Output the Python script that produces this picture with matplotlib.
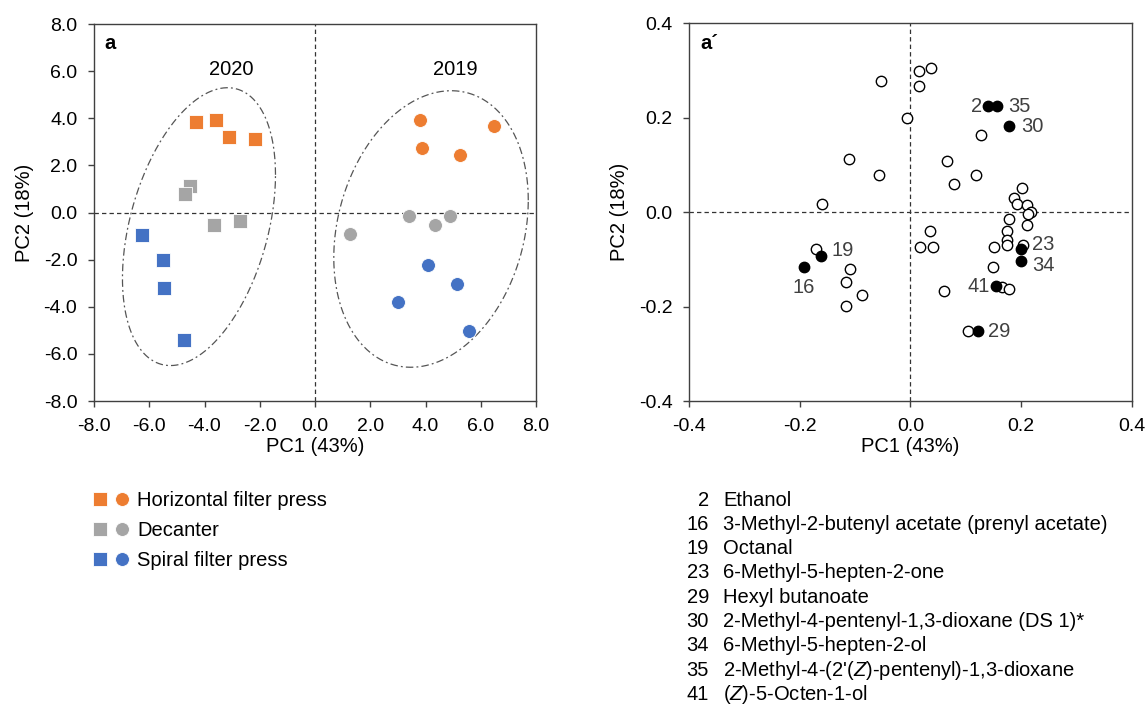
import numpy as np
import matplotlib
matplotlib.use("Agg")
import matplotlib.pyplot as plt
from matplotlib.lines import Line2D
from matplotlib.legend_handler import HandlerTuple
from matplotlib.ticker import FormatStrFormatter

plt.rcParams['font.family'] = ['Liberation Sans', 'DejaVu Sans']
plt.rcParams['mathtext.fontset'] = 'custom'
plt.rcParams['mathtext.rm'] = 'Liberation Sans'
plt.rcParams['mathtext.it'] = 'Liberation Sans:italic'
plt.rcParams['axes.unicode_minus'] = False

# --- scores plot (a) ---
presses = ["Horizontal filter press", "Decanter", "Spiral filter press"]
press_colors = ["#ED7D31", "#A5A5A5", "#4472C4"]

pc1_2020 = [[-4.30, -3.58, -3.13, -2.16],
            [-4.52, -4.69, -3.67, -2.72],
            [-6.28, -5.51, -5.48, -4.73]]
pc2_2020 = [[3.85, 3.93, 3.20, 3.13],
            [1.12, 0.77, -0.54, -0.37],
            [-0.97, -2.03, -3.22, -5.43]]
pc1_2019 = [[3.80, 3.86, 5.25, 6.47],
            [1.28, 3.42, 4.35, 4.89],
            [4.08, 5.14, 3.02, 5.59]]
pc2_2019 = [[3.93, 2.72, 2.44, 3.66],
            [-0.93, -0.16, -0.52, -0.16],
            [-2.24, -3.03, -3.81, -5.03]]

# confidence ellipses: centre x, centre y, x semi-extent, y coupling, y spread
ellipse_2020 = (-4.2, -0.6, 2.77, 2.2, 5.47)
ellipse_2019 = (4.2, -0.7, 3.52, 1.22, 5.74)

# --- loadings plot (a') ---
open_pc1 = [-0.054, 0.016, 0.037, 0.016, -0.007, 0.127, -0.111, -0.057, 0.066,
            0.119, 0.078, -0.160, 0.202, 0.187, 0.193, 0.210, 0.217, 0.213,
            0.211, 0.178, 0.175, 0.174, 0.175, 0.204, 0.151, 0.149, 0.036,
            0.017, 0.040, -0.171, -0.109, -0.116, -0.088, -0.117, 0.061,
            0.165, 0.178, 0.104]
open_pc2 = [0.277, 0.300, 0.305, 0.268, 0.200, 0.164, 0.113, 0.079, 0.108,
            0.078, 0.059, 0.017, 0.051, 0.030, 0.018, 0.015, 0.000, -0.003,
            -0.027, -0.014, -0.039, -0.059, -0.070, -0.069, -0.074, -0.117,
            -0.039, -0.074, -0.073, -0.078, -0.121, -0.148, -0.176, -0.199,
            -0.168, -0.158, -0.162, -0.252]

marked_ids = [2, 35, 30, 23, 34, 41, 29, 19, 16]
marked_pc1 = [0.140, 0.157, 0.179, 0.200, 0.200, 0.155, 0.122, -0.161, -0.193]
marked_pc2 = [0.224, 0.224, 0.182, -0.078, -0.103, -0.157, -0.252, -0.092, -0.116]

compound_ids = [2, 16, 19, 23, 29, 30, 34, 35, 41]
compound_names = [
    "Ethanol",
    "3-Methyl-2-butenyl acetate (prenyl acetate)",
    "Octanal",
    "6-Methyl-5-hepten-2-one",
    "Hexyl butanoate",
    "2-Methyl-4-pentenyl-1,3-dioxane (DS 1)*",
    "6-Methyl-5-hepten-2-ol",
    r"2-Methyl-4-(2'($\mathit{Z}$)-pentenyl)-1,3-dioxane",
    r"($\mathit{Z}$)-5-Octen-1-ol",
]

# label placement (offset in points, horizontal alignment)
label_offsets = {2: (-4.5, 0, 'right'), 35: (8, 0, 'left'), 30: (8.5, 0, 'left'),
                 23: (8, 3, 'left'), 34: (8, -3.5, 'left'), 41: (-4.5, 0, 'right'),
                 29: (7, 0, 'left'), 19: (7, 4, 'left'), 16: (0, -14.5, 'center')}

FS = 14.5
SPINE = "#404040"


def style_axes(ax, lim, step):
    ax.set_xlim(-lim, lim)
    ax.set_ylim(-lim, lim)
    ticks = np.arange(-lim, lim + step / 2, step)
    ax.set_xticks(ticks)
    ax.set_yticks(ticks)
    ax.xaxis.set_major_formatter(FormatStrFormatter('%.1f'))
    ax.yaxis.set_major_formatter(FormatStrFormatter('%.1f'))
    ax.tick_params(direction='out', length=4, width=1, color=SPINE,
                   labelsize=14, pad=8)
    for sp in ax.spines.values():
        sp.set_color(SPINE)
        sp.set_linewidth(1.0)
    ax.axhline(0, color="#333333", lw=0.9, ls=(0, (3.5, 2.5)), zorder=1)
    ax.axvline(0, color="#333333", lw=0.9, ls=(0, (3.5, 2.5)), zorder=1)
    ax.set_xlabel("PC1 (43%)", fontsize=FS, labelpad=2)
    ax.set_ylabel("PC2 (18%)", fontsize=FS, labelpad=7)


def draw_ellipse(ax, params):
    cx, cy, a, c, d = params
    t = np.linspace(0, 2 * np.pi, 300)
    ax.plot(cx + a * np.cos(t), cy + c * np.cos(t) + d * np.sin(t),
            color="#555555", lw=0.9, ls=(0, (6, 2.5, 1.5, 2.5)), zorder=2)


fig = plt.figure(figsize=(11.46, 7.08), dpi=100)
W, H = 1146, 708
ax1 = fig.add_axes([94 / W, 307 / H, 442 / W, 377 / H])
ax2 = fig.add_axes([689.3 / W, 307 / H, 442.4 / W, 377.7 / H])

# left: scores
style_axes(ax1, 8.0, 2.0)
draw_ellipse(ax1, ellipse_2020)
draw_ellipse(ax1, ellipse_2019)
for i, col in enumerate(press_colors):
    ax1.scatter(pc1_2020[i], pc2_2020[i], marker='s', s=100, c=col,
                edgecolors='white', linewidths=0.6, zorder=3)
    ax1.scatter(pc1_2019[i], pc2_2019[i], marker='o', s=100, c=col,
                edgecolors='white', linewidths=0.6, zorder=3)
ax1.text(-3.04, 6.05, "2020", fontsize=FS, ha='center', va='center')
ax1.text(5.07, 6.05, "2019", fontsize=FS, ha='center', va='center')
ax1.text(0.036, 0.947, "a", transform=ax1.transAxes, fontsize=FS,
         fontweight='bold', ha='center', va='center')

# legend for the press types
handles = []
for col in press_colors:
    sq = Line2D([], [], marker='s', ls='none', ms=10, mfc=col, mec='white', mew=0.6)
    ci = Line2D([], [], marker='o', ls='none', ms=10, mfc=col, mec='white', mew=0.6)
    handles.append((sq, ci))
fig.legend(handles, presses, handler_map={tuple: HandlerTuple(ndivide=None, pad=0)},
           loc='upper left', bbox_to_anchor=(89 / W, 1 - 491 / H),
           frameon=False, fontsize=FS, numpoints=1, handlelength=2.18,
           handletextpad=0.2, labelspacing=0.54, borderpad=0, borderaxespad=0)

# right: loadings
style_axes(ax2, 0.4, 0.2)
ax2.scatter(open_pc1, open_pc2, marker='o', s=56, facecolors='white',
            edgecolors='black', linewidths=1.0, zorder=3)
ax2.scatter(marked_pc1, marked_pc2, marker='o', s=56, c='black',
            edgecolors='black', linewidths=1.0, zorder=4)
for cid, x, y in zip(marked_ids, marked_pc1, marked_pc2):
    dx, dy, ha = label_offsets[cid]
    ax2.annotate(str(cid), (x, y), xytext=(dx, dy), textcoords='offset points',
                 ha=ha, va='center', fontsize=FS, color="#404040", zorder=5)
ax2.text(0.045, 0.947, "a\u00b4", transform=ax2.transAxes, fontsize=FS,
         fontweight='bold', ha='center', va='center')

# compound key
for k, (cid, name) in enumerate(zip(compound_ids, compound_names)):
    y = 1 - (500 + k * 24.3) / H
    fig.text(709 / W, y, str(cid), fontsize=FS, ha='right', va='center')
    fig.text(723 / W, y, name, fontsize=FS, ha='left', va='center')

fig.savefig("out.png", dpi=100)
